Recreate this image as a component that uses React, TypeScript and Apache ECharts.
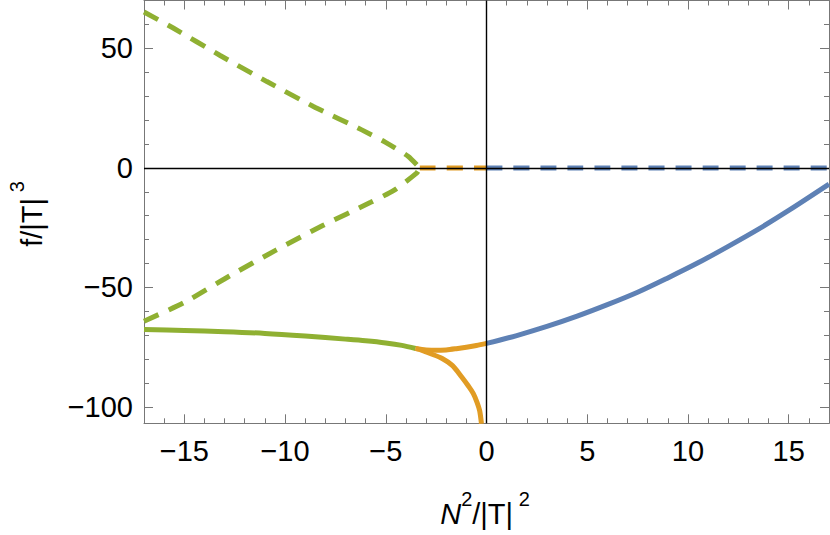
import React, { useEffect, useRef } from "react";
import * as echarts from "echarts";

// x = N^2/|T|^2 , y = f/|T|^3
const blueSolid: [number, number][] = [
  [0, -73.4], [1.5, -70.1], [3, -66.3], [4.5, -62.0], [6, -57.2], [7.5, -52.0],
  [9, -46.0], [10.5, -39.7], [12, -32.8], [13.5, -25.6], [15, -17.8], [17, -6.8],
];
const blueDashed: [number, number][] = [[0, 0], [17, 0]];
const orangeDashed: [number, number][] = [[-3.31, 0], [0, 0]];
const orangeUpper: [number, number][] = [
  [-3.52, -75.5], [-3.0, -76.1], [-2.5, -76.3], [-2.0, -76.1], [-1.5, -75.6],
  [-1.0, -75.0], [-0.5, -74.3], [0, -73.4],
];
const orangeLower: [number, number][] = [
  [-3.52, -75.5], [-3.2, -76.3], [-2.8, -77.6], [-2.2, -79.7], [-1.7, -82.6],
  [-1.24, -87.3], [-0.9, -91.2], [-0.66, -94.3], [-0.47, -98.0], [-0.34, -101.5], [-0.25, -107],
];
const greenSolid: [number, number][] = [
  [-17, -67.6], [-15, -68.0], [-13, -68.5], [-11, -69.2], [-9, -70.3], [-7, -71.6],
  [-6, -72.3], [-5, -73.2], [-4.2, -74.2], [-3.52, -75.5],
];
const greenDashedUpper: [number, number][] = [
  [-17, 65.2], [-15.55, 58.5], [-13.22, 47.0], [-10.9, 36.1], [-8.59, 25.7],
  [-6.19, 15.9], [-5.03, 10.8], [-3.88, 4.8], [-3.31, 0],
];
const greenDashedLower: [number, number][] = [
  [-17, -64.1], [-15.03, -56.4], [-12.76, -45.2], [-10.45, -34.4], [-8.13, -24.1],
  [-5.75, -14.4], [-4.6, -9.4], [-3.47, -2.2], [-3.31, 0],
];

const X_MIN = -17;
const X_MAX = 17;
const Y_MIN = -106.8;
const Y_MAX = 70;

const BLUE = "#5E81B5";
const ORANGE = "#E19C24";
const GREEN = "#8FB032";
const FRAME = "#777777";
const FONT = "'Liberation Sans', Arial, Helvetica, sans-serif";

const fmt = (v: number) => (v < 0 ? "\u2212" + Math.abs(v) : String(v));

export default function App() {
  const ref = useRef<HTMLDivElement>(null);
  useEffect(() => {
    if (!ref.current) return;
    const chart = echarts.init(ref.current, undefined, { renderer: "svg" });

    const frameAxis = () => ({
      type: "value",
      splitLine: { show: false },
      axisLine: { show: true, onZero: false, lineStyle: { color: FRAME, width: 1 } },
      axisTick: { show: true, inside: true, length: 9, lineStyle: { color: FRAME, width: 1 } },
      minorTick: { show: true, splitNumber: 5, length: 5, lineStyle: { color: FRAME, width: 1 } },
      minorSplitLine: { show: false },
    });

    const labelStyle = (show: boolean, margin: number) => ({
      show,
      fontSize: 29,
      fontFamily: FONT,
      color: "#000",
      margin,
      showMinLabel: false,
      showMaxLabel: false,
      formatter: fmt,
    });

    const xAx = (pos: string, labels: boolean) => ({
      ...frameAxis(),
      position: pos,
      min: X_MIN,
      max: X_MAX,
      splitNumber: 7,
      axisLabel: labelStyle(labels, 13),
    });
    const yAx = (pos: string, labels: boolean) => ({
      ...frameAxis(),
      position: pos,
      min: Y_MIN,
      max: Y_MAX,
      splitNumber: 4,
      axisLabel: labelStyle(labels, 11),
    });

    const curve = (data: [number, number][], color: string, dashed: boolean, z: number) => ({
      type: "line",
      data,
      xAxisIndex: 0,
      yAxisIndex: 0,
      showSymbol: false,
      symbol: "none",
      smooth: dashed ? 0.2 : 0.3,
      z,
      silent: true,
      lineStyle: {
        color,
        width: 5,
        type: dashed ? [16, 11] : "solid",
        cap: "butt",
      },
    });

    chart.setOption({
      animation: false,
      backgroundColor: "#ffffff",
      grid: { left: 144, right: 1, top: 0.5, bottom: 111.7, containLabel: false, outerBoundsMode: "none" },
      xAxis: [xAx("bottom", true), xAx("top", false)],
      yAxis: [yAx("left", true), yAx("right", false)],
      series: [
        {
          type: "line",
          data: [[0, 0]],
          showSymbol: false,
          symbol: "none",
          lineStyle: { opacity: 0 },
          z: 1,
          silent: true,
          markLine: {
            silent: true,
            symbol: "none",
            label: { show: false },
            lineStyle: { color: "#000", width: 1.4, type: "solid" },
            data: [{ xAxis: 0 }, { yAxis: 0 }],
          },
        },
        curve(greenSolid, GREEN, false, 3),
        curve(orangeUpper, ORANGE, false, 3),
        curve(orangeLower, ORANGE, false, 3),
        curve(blueSolid, BLUE, false, 3),
        curve(greenDashedUpper, GREEN, true, 3),
        curve(greenDashedLower, GREEN, true, 3),
        curve(orangeDashed, ORANGE, true, 3),
        curve(blueDashed, BLUE, true, 3),
      ],
      graphic: [
        {
          type: "text",
          x: 485,
          y: 514,
          style: {
            text: "{i|N}{s|2}{m|/|T|}{s| 2}",
            align: "center",
            verticalAlign: "middle",
            fill: "#000",
            font: `29px ${FONT}`,
            rich: {
              i: { fontSize: 29, fontStyle: "italic", fontFamily: FONT, lineHeight: 50, fill: "#000" },
              m: { fontSize: 29, fontFamily: FONT, lineHeight: 50, fill: "#000" },
              s: { fontSize: 20, fontFamily: FONT, lineHeight: 20, verticalAlign: "top", fill: "#000" },
            },
          },
        },
        {
          type: "text",
          x: 32,
          y: 214,
          rotation: Math.PI / 2,
          style: {
            text: "{m|f/|T|}{s| 3}",
            align: "center",
            verticalAlign: "middle",
            fill: "#000",
            font: `29px ${FONT}`,
            rich: {
              m: { fontSize: 29, fontFamily: FONT, lineHeight: 50, fill: "#000" },
              s: { fontSize: 20, fontFamily: FONT, lineHeight: 20, verticalAlign: "top", fill: "#000" },
            },
          },
        },
      ],
    });
    return () => chart.dispose();
  }, []);
  return (
    <div
      ref={ref}
      style={{ position: "fixed", left: 0, top: 0, width: 830, height: 535, background: "#fff" }}
    />
  );
}
